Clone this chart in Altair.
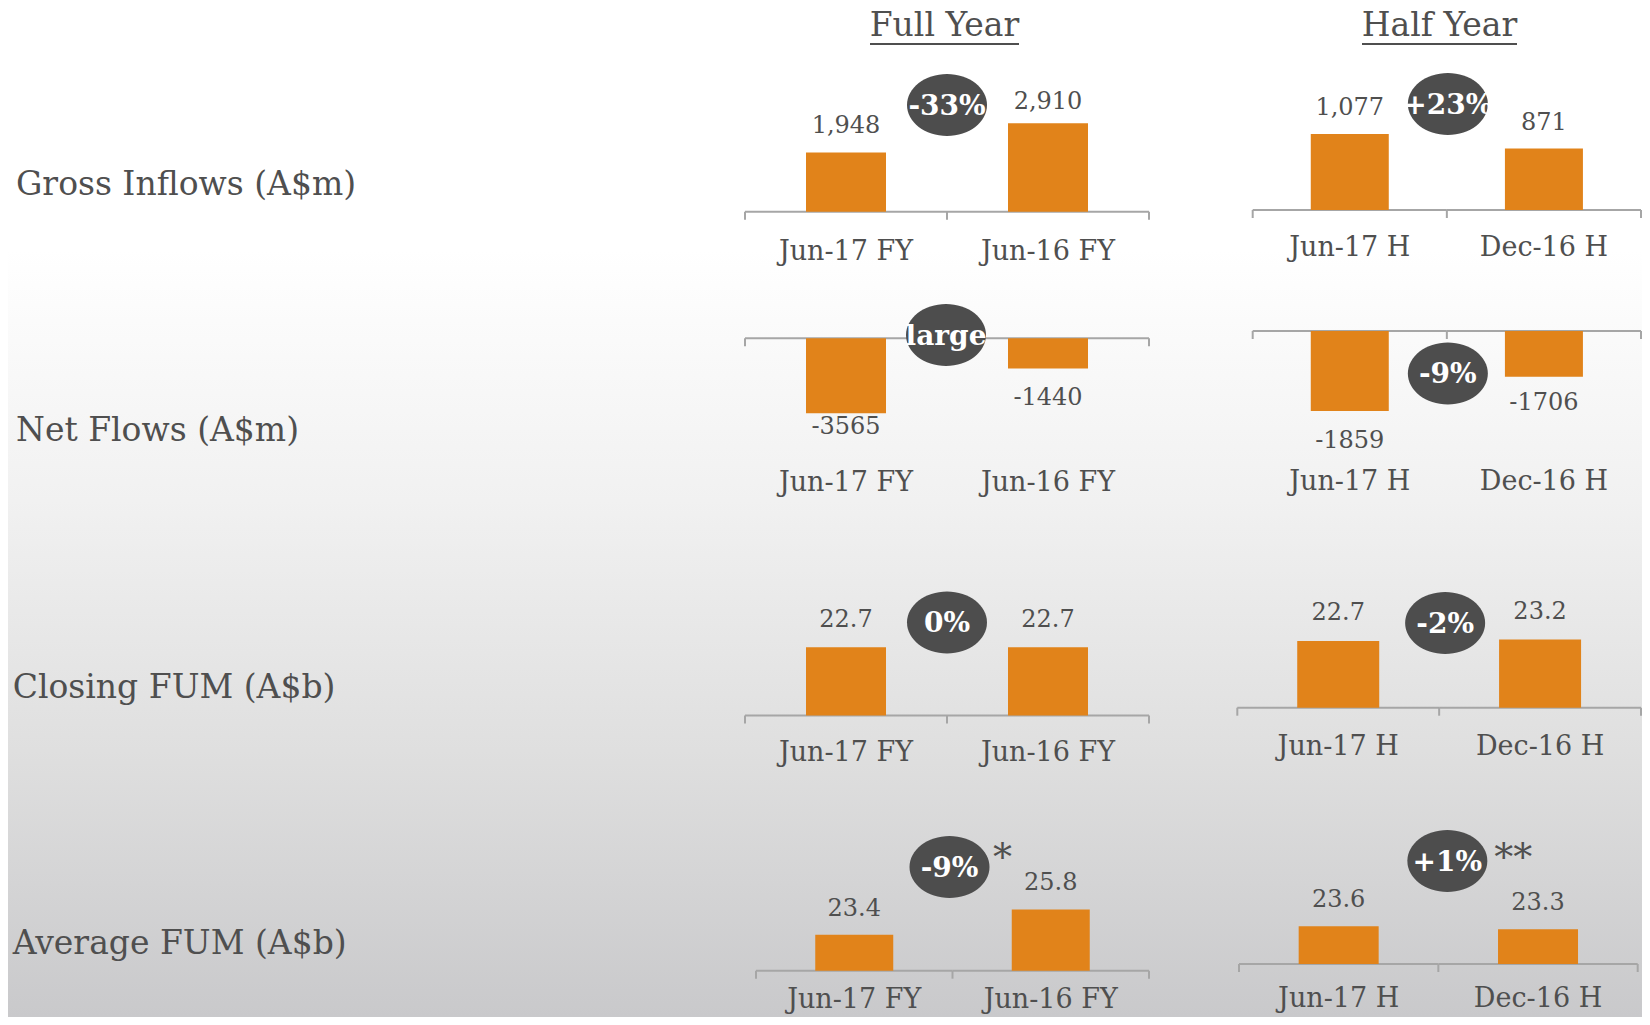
import altair as alt
import pandas as pd

# ---------------- data ----------------
fy_periods = ["Jun-17 FY", "Jun-16 FY"]
hy_periods = ["Jun-17 H", "Dec-16 H"]

gross_fy = [1948, 2910]
gross_hy = [1077, 871]
net_fy = [-3565, -1440]
net_hy = [-1859, -1706]
# the half-year net-flow bars are drawn shorter in the source than their labels imply;
# these are the bar lengths as they appear in the picture
net_hy_drawn = [-1859, -1062]
closing_fy = [22.7, 22.7]
closing_hy = [22.7, 23.2]
average_fy = [23.4, 25.8]
average_hy = [23.6, 23.3]

row_titles = ["Gross Inflows (A$m)", "Net Flows (A$m)", "Closing FUM (A$b)", "Average FUM (A$b)"]
column_titles = ["Full Year", "Half Year"]
change_fy = ["-33%", "large", "0%", "-9%"]
change_hy = ["+23%", "-9%", "-2%", "+1%"]
footnote_fy = ["", "", "", "*"]
footnote_hy = ["", "", "", "**"]

# ---------------- style / layout ----------------
M = 8                      # page margin
W, H = 1634, 1009
FONT = "DejaVu Serif"
TEXT = "#4f4f4f"
ORANGE = "#E1831A"
DARK = "#4d4d4d"
AXIS = "#a6a6a6"
ELLIPSE = "M -1 0 A 1 0.775 0 1 1 1 0 A 1 0.775 0 1 1 -1 0 Z"

# geometry of every small panel in page pixels
FY_GEOM = [
    dict(x0=745, x1=1149, axis=211.7, k=0.03038, base=0, bar=80, gaps=[-27.7, -22.5], cat_y=250, badge_y=105, badge_dx=0),
    dict(x0=745, x1=1149, axis=338.3, k=0.0210, base=0, bar=80, gaps=[12.4, 28.4], cat_y=481.7, badge_y=335, badge_dx=-1),
    dict(x0=745, x1=1149, axis=715.5, k=3.009, base=0, bar=80, gaps=[-28.4, -28.4], cat_y=751.3, badge_y=622.5, badge_dx=0),
    dict(x0=756, x1=1149, axis=970.7, k=10.55, base=20, bar=78, gaps=[-27, -27.6], cat_y=998, badge_y=867, badge_dx=-3,
         foot_dx=50, foot_y=870),
]
HY_GEOM = [
    dict(x0=1252.7, x1=1641, axis=210, k=0.07057, base=0, bar=78, gaps=[-27.3, -27], cat_y=246.7, badge_y=104, badge_dx=1),
    dict(x0=1252.7, x1=1641, axis=331, k=0.04303, base=0, bar=78, gaps=[29, 25], cat_y=480.7, badge_y=373.5, badge_dx=1),
    dict(x0=1237.3, x1=1641, axis=707.7, k=2.94, base=0, bar=82, gaps=[-29.3, -28.7], cat_y=745, badge_y=623, badge_dx=6),
    dict(x0=1239, x1=1637.7, axis=964, k=10.5, base=20, bar=80, gaps=[-28, -28], cat_y=997, badge_y=861, badge_dx=9,
         foot_dx=75, foot_y=870),
]
ROW_LABEL_POS = [(16, 185), (16, 431), (12.7, 688), (12.7, 943.7)]
TITLE_POS = [(944.5, 25.5, 870, 1019), (1439.5, 25.5, 1362, 1517)]
UNDERLINE_Y = 44


def fmt_gross(v):
    return f"{v:,}"


def fmt_net(v):
    return f"{v}"


def fmt_fum(v):
    return f"{v:.1f}"


def panel(periods, bars, labels, change, foot, g):
    df = pd.DataFrame({
        "idx": [0, 1],
        "period": periods,
        "bar": bars,
        "label": labels,
        "change": [change, change],
        "foot": [foot, foot],
    })
    span = 100.0 / g["k"]
    ax = g["axis"] - M
    xs = alt.Scale(domain=periods, range=[g["x0"] - M, g["x1"] - M], paddingInner=0, paddingOuter=0)
    ys = alt.Scale(domain=[g["base"] - span, g["base"] + span], range=[ax + 100, ax - 100], nice=False, zero=False)
    X = alt.X("period:N", scale=xs, axis=None)
    X0 = alt.X("period:N", scale=xs, axis=None, bandPosition=0)
    X1 = alt.X("period:N", scale=xs, axis=None, bandPosition=1)
    Y = alt.Y("bar:Q", scale=ys, axis=None)
    YB = alt.YDatum(g["base"], type="quantitative", scale=ys, axis=None)
    Y2B = alt.Y2Datum(g["base"])

    layers = []
    # axis line and band ticks
    layers.append(alt.Chart().mark_rect(color=AXIS, yOffset=-1, y2Offset=1).encode(x=X, y=YB, y2=Y2B))
    layers.append(alt.Chart().mark_rule(color=AXIS, strokeWidth=2, y2Offset=8).encode(x=X0, y=YB, y2=Y2B))
    layers.append(alt.Chart().transform_filter("datum.idx == 1")
                  .mark_rule(color=AXIS, strokeWidth=2, y2Offset=8).encode(x=X1, y=YB, y2=Y2B))
    # bars
    layers.append(alt.Chart().mark_bar(size=g["bar"], color=ORANGE).encode(x=X, y=Y, y2=Y2B))
    # value labels
    for i in (0, 1):
        layers.append(alt.Chart().transform_filter(f"datum.idx == {i}")
                      .mark_text(font=FONT, fontSize=24, color=TEXT, baseline="middle", dy=g["gaps"][i] + 1.5)
                      .encode(x=X, y=Y, text="label:N"))
    # category labels
    layers.append(alt.Chart().mark_text(font=FONT, fontSize=27, color=TEXT, baseline="middle",
                                        dy=g["cat_y"] - g["axis"] + 1.75)
                  .encode(x=X, y=YB, text="period:N"))
    # change badge
    layers.append(alt.Chart().transform_filter("datum.idx == 1")
                  .mark_point(shape=ELLIPSE, size=6400, filled=True, color=DARK, opacity=1,
                              strokeWidth=0, xOffset=g["badge_dx"])
                  .encode(x=X0, y=alt.value(g["badge_y"] - M)))
    layers.append(alt.Chart().transform_filter("datum.idx == 1")
                  .mark_text(font=FONT, fontWeight="bold", fontSize=28, color="white", baseline="middle",
                             dy=1.5, xOffset=g["badge_dx"])
                  .encode(x=X0, y=alt.value(g["badge_y"] - M), text="change:N"))
    if foot:
        layers.append(alt.Chart().transform_filter("datum.idx == 1")
                      .mark_text(font=FONT, fontSize=38, color=TEXT, baseline="alphabetic", xOffset=g["foot_dx"])
                      .encode(x=X0, y=alt.value(g["foot_y"] - M), text="foot:N"))
    return alt.layer(*layers, data=df)


# ---------------- build ----------------
def off(y):
    return min(1.0, max(0.0, (y - M) / H))


bg = alt.Chart(pd.DataFrame({"d": [0]})).mark_rect(
    color=alt.LinearGradient(
        gradient="linear",
        stops=[
            alt.GradientStop(color="#ffffff", offset=0),
            alt.GradientStop(color="#ffffff", offset=off(250)),
            alt.GradientStop(color="#f1f1f1", offset=off(500)),
            alt.GradientStop(color="#dfdfdf", offset=off(750)),
            alt.GradientStop(color="#c9c9cb", offset=1),
        ],
        x1=0, x2=0, y1=0, y2=1,
    )
).encode(x=alt.value(0), x2=alt.value(W), y=alt.value(0), y2=alt.value(H))

deco = []
for title, (cx, cy, ux0, ux1) in zip(column_titles, TITLE_POS):
    deco.append(alt.Chart(pd.DataFrame({"t": [title]})).mark_text(
        font=FONT, fontSize=33, color=TEXT, baseline="middle", align="center"
    ).encode(x=alt.value(cx - M), y=alt.value(cy - M), text="t:N"))
    deco.append(alt.Chart(pd.DataFrame({"t": [title]})).mark_rule(color=TEXT, strokeWidth=2).encode(
        x=alt.value(ux0 - M), x2=alt.value(ux1 - M), y=alt.value(UNDERLINE_Y - M)))

for title, (lx, ly) in zip(row_titles, ROW_LABEL_POS):
    deco.append(alt.Chart(pd.DataFrame({"t": [title]})).mark_text(
        font=FONT, fontSize=33, color=TEXT, baseline="middle", align="left"
    ).encode(x=alt.value(lx - M), y=alt.value(ly - M), text="t:N"))

fy_rows = [
    (gross_fy, [fmt_gross(v) for v in gross_fy]),
    (net_fy, [fmt_net(v) for v in net_fy]),
    (closing_fy, [fmt_fum(v) for v in closing_fy]),
    (average_fy, [fmt_fum(v) for v in average_fy]),
]
hy_rows = [
    (gross_hy, [fmt_gross(v) for v in gross_hy]),
    (net_hy_drawn, [fmt_net(v) for v in net_hy]),
    (closing_hy, [fmt_fum(v) for v in closing_hy]),
    (average_hy, [fmt_fum(v) for v in average_hy]),
]

panels = []
for r in range(4):
    panels.append(panel(fy_periods, fy_rows[r][0], fy_rows[r][1], change_fy[r], footnote_fy[r], FY_GEOM[r]))
    panels.append(panel(hy_periods, hy_rows[r][0], hy_rows[r][1], change_hy[r], footnote_hy[r], HY_GEOM[r]))

chart = alt.layer(bg, *deco, *panels).resolve_scale(
    x="independent", y="independent"
).properties(
    width=W, height=H, padding=0, autosize=alt.AutoSizeParams(type="none")
).configure_view(stroke=None)

chart.save("out.html", embed_options={"renderer": "svg", "actions": False})
